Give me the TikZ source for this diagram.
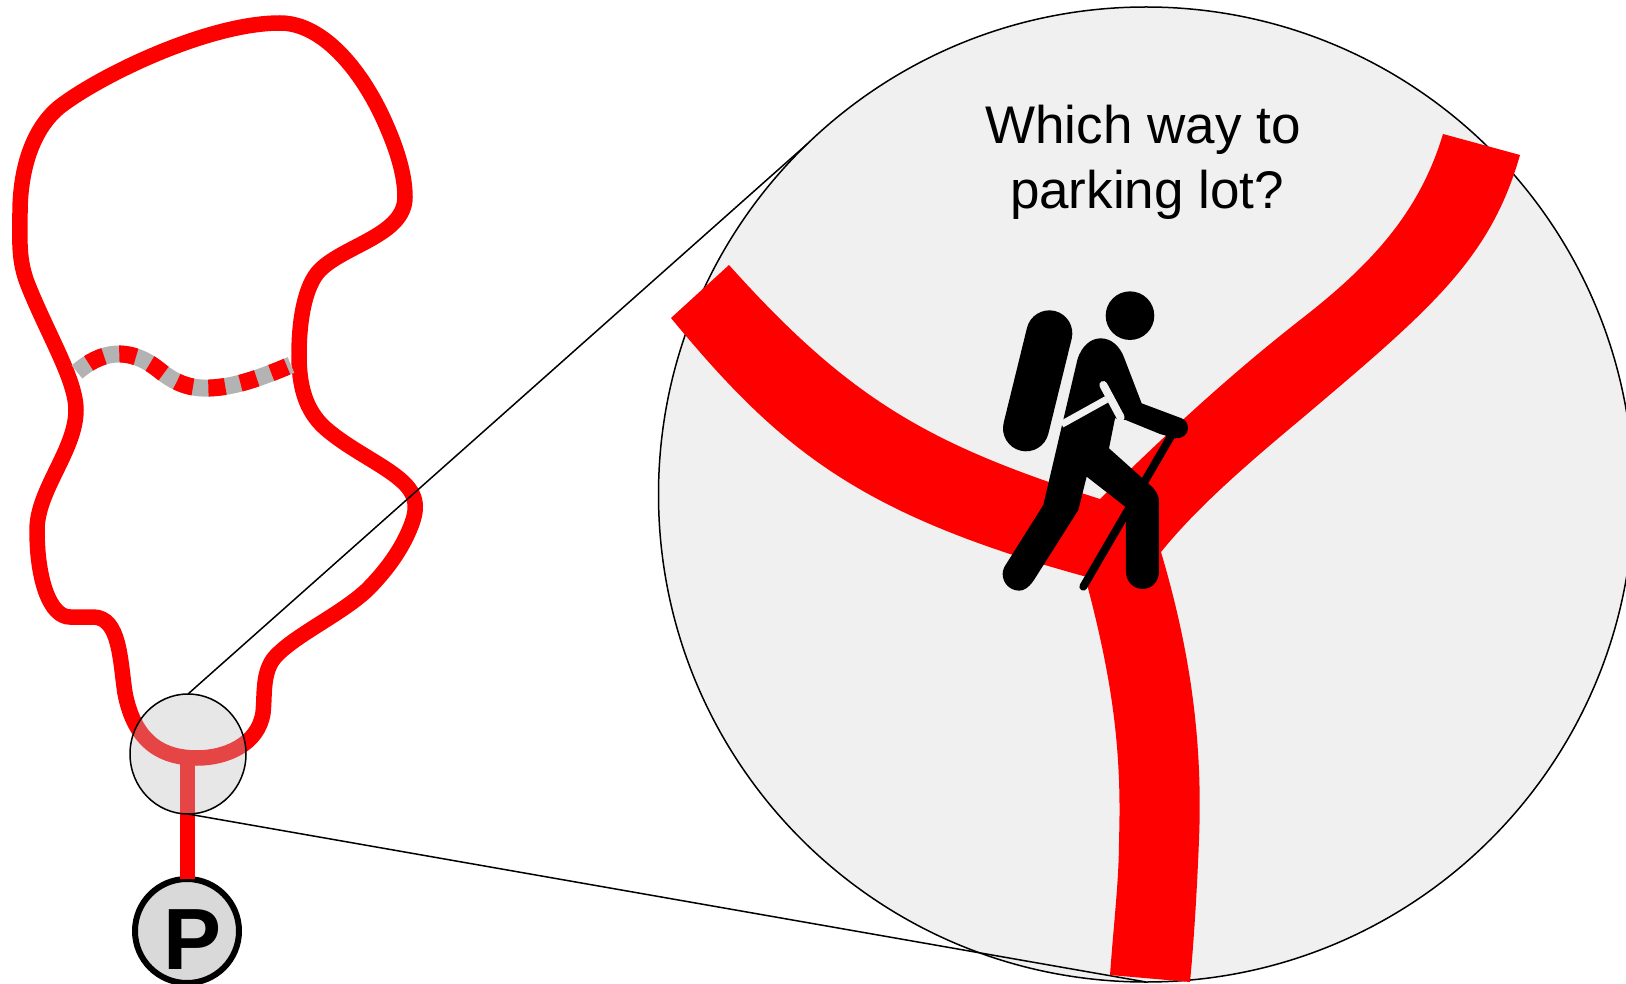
\documentclass[tikz,border=0pt]{standalone}
\usepackage{fontspec}
\setmainfont{Liberation Sans}
\usetikzlibrary{positioning, shapes.geometric}
\definecolor{trailred}{HTML}{FF0000}
\definecolor{viewgray}{HTML}{F0F0F0}
\definecolor{closedgray}{HTML}{B3B3B3}
\definecolor{lensgray}{HTML}{BDBDBD}
\definecolor{signgray}{HTML}{D9D9D9}

\begin{document}
\begin{tikzpicture}[x=1pt,y=-1pt,
  trail/.style={draw=trailred,line width=15.5pt},
  bigview/.style={circle,draw=black,line width=1.5pt,fill=viewgray,minimum size=975pt,inner sep=0pt,outer sep=0pt},
  lensview/.style={ellipse,draw=black,line width=1.5pt,fill=lensgray,fill opacity=.37,minimum width=116pt,minimum height=120pt,inner sep=0pt,outer sep=0pt},
  parksign/.style={circle,draw=black,line width=6pt,fill=signgray,minimum size=104pt,inner sep=0pt,outer sep=0pt,font=\fontsize{87}{87}\selectfont\bfseries},
  leader/.style={draw=black,line width=1.5pt},
  cutout/.style={draw=viewgray,line cap=round}]
  \useasboundingbox (0,0) rectangle (1626,984);
  % trail map
  \draw[trail] (280,23) .. controls (325,23) and (365,75) .. (387,127) .. controls (397,150) and (405,175) .. (405,197)
    .. controls (405,235) and (345,245) .. (320,270) .. controls (305,285) and (299,320) .. (299,355)
    .. controls (299,385) and (305,410) .. (325,428) .. controls (350,450) and (385,465) .. (403,482)
    .. controls (420,498) and (417,513) .. (408,533) .. controls (399,553) and (385,572) .. (367,590)
    .. controls (340,615) and (295,635) .. (275,657) .. controls (262,672) and (265,695) .. (263,713)
    .. controls (258,745) and (225,758) .. (197,758) .. controls (165,758) and (135,745) .. (125,693)
    .. controls (120,660) and (120,617) .. (93,617) -- (70,617) .. controls (50,617) and (37,580) .. (37,530)
    .. controls (37,490) and (76,450) .. (76,410) .. controls (76,380) and (48,335) .. (28,285)
    .. controls (18,260) and (20,240) .. (20,213) .. controls (20,165) and (35,125) .. (62,105)
    .. controls (105,73) and (210,23) .. (280,23) -- cycle;
  \coordinate (J) at (187,757);
  \node[parksign] (P) at (187,931) {\raisebox{-38pt}[0pt][0pt]{\hspace*{12pt}P}};
  \draw[trail,line width=15pt] (J) -- (P);
  % closed trail
  \draw[closedgray,line width=17pt] (77,372) .. controls (100,352) and (128,345) .. (159,370)
    .. controls (175,383) and (190,389) .. (210,388) .. controls (235,387) and (260,378) .. (291,365);
  \draw[trailred,line width=17pt,dash pattern=on 17pt off 15.5pt,dash phase=18pt] (77,372) .. controls (100,352) and (128,345) .. (159,370)
    .. controls (175,383) and (190,389) .. (210,388) .. controls (235,387) and (260,378) .. (291,365);
  % magnified view
  \node[bigview] (V) at (1146,494.5) {};
  \node[lensview] (L) at (188,754) {};
  \draw[leader] (L.north) -- (V.134);
  \draw[leader] (L.south) -- (V.south);
  \fill[trailred] (729,265) .. controls (850,400) and (930,445) .. (1100,499)
    .. controls (1170,430) and (1230,375) .. (1300,320) .. controls (1375,262) and (1420,210) .. (1443,134)
    -- (1520,155) .. controls (1490,260) and (1430,310) .. (1300,420) .. controls (1240,470) and (1195,510) .. (1161,552)
    .. controls (1190,650) and (1203,740) .. (1199,840) .. controls (1197,890) and (1194,940) .. (1190,982)
    -- (1110,975) .. controls (1114,920) and (1119,880) .. (1119,840) .. controls (1122,750) and (1112,680) .. (1088,588)
    -- (1087,577) .. controls (860,515) and (780,450) .. (671,318) -- cycle;
  \node[align=center,font=\fontsize{53}{65}\selectfont] (Q) at (1143,162) {Which way to\\\hspace*{8pt}parking lot?};
  % hiker
  \begin{scope}[shift={(960,270)},x=.3333pt,y=-.3333pt]
    \fill[black] (510,137) circle (24.3pt);
    \draw[black,line width=46pt,line cap=round] (268,190) -- (198,475);
    \fill[black] (352,270) .. controls (365,225) and (395,205) .. (422,205) .. controls (455,205) and (480,230) .. (492,262)
      -- (545,400) -- (665,445) .. controls (678,450) and (684,462) .. (684,475) .. controls (684,495) and (665,507) .. (645,505)
      -- (600,492) -- (497,450) -- (465,445)
      -- (447,535) -- (570,645) .. controls (590,663) and (597,675) .. (597,700) -- (597,905)
      .. controls (597,935) and (575,957) .. (548,957) .. controls (520,957) and (498,935) .. (498,905)
      -- (498,712) -- (380,620) -- (355,720) -- (222,930) .. controls (205,955) and (190,962) .. (178,962)
      .. controls (150,962) and (128,940) .. (128,912) .. controls (128,900) and (133,890) .. (140,880)
      -- (250,705) -- (305,470) -- cycle;
    \draw[cutout,line width=8pt] (430,345) -- (482,442);
    \draw[cutout,line width=7pt,line cap=butt] (305,463) -- (440,388);
    \draw[black,line width=8pt,line cap=round] (635,495) -- (370,950);
  \end{scope}
\end{tikzpicture}
\end{document}
